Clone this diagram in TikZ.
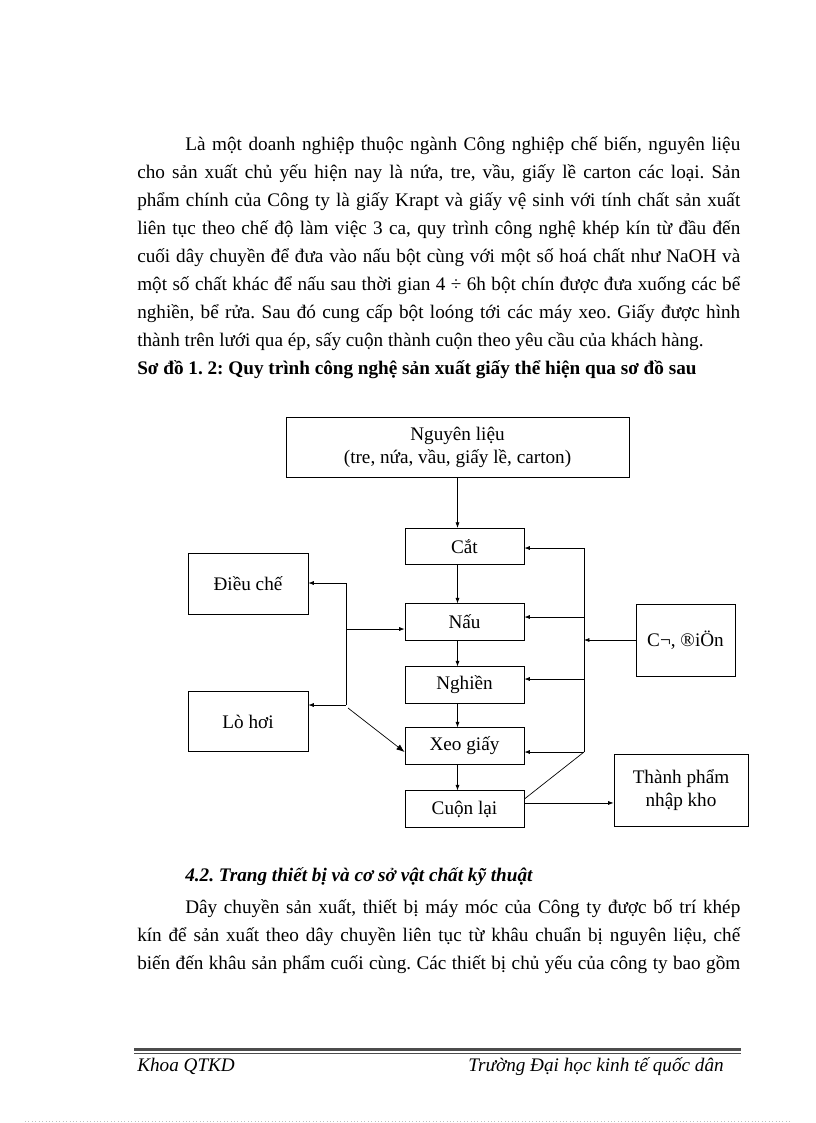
\documentclass[tikz,border=0pt]{standalone}
\usepackage{fontspec}
\setmainfont{Liberation Serif}
\usetikzlibrary{arrows.meta}
\frenchspacing

\tikzset{
    box/.style = {draw, line width = 0.6pt, inner sep = 1pt, align = center, font = \fontsize{14}{16.8}\selectfont},
    proc/.style = {box, minimum width = 86.8pt, minimum height = 26.6pt},
    side/.style = {box, minimum width = 87.5pt, minimum height = 44.1pt},
    arr/.style = {-{Latex[length = 4pt, width = 3pt]}, line width = 0.5pt},
    txt/.style = {anchor = base west, inner sep = 0pt, font = \fontsize{14}{17}\selectfont},
}

\begin{document}
\begin{tikzpicture}[x = 0.7295pt, y = -0.7295pt]
    \useasboundingbox (0, 0) rectangle (816, 1123);

    % body text above the chart
    \path
        (185, 150) node [txt] {\makebox[404.9pt][s]{Là một doanh nghiệp thuộc ngành Công nghiệp chế biến, nguyên liệu}}
        (137, 178.1) node [txt] {\makebox[439.9pt][s]{cho sản xuất chủ yếu hiện nay là nứa, tre, vầu, giấy lề carton các loại. Sản}}
        (137, 206.2) node [txt] {\makebox[439.9pt][s]{phẩm chính của Công ty là giấy Krapt và giấy vệ sinh với tính chất sản xuất}}
        (137, 234.3) node [txt] {\makebox[439.9pt][s]{liên tục theo chế độ làm việc 3 ca, quy trình công nghệ khép kín từ đầu đến}}
        (137, 262.4) node [txt] {\makebox[439.9pt][s]{cuối dây chuyền để đưa vào nấu bột cùng với một số hoá chất như NaOH và}}
        (137, 290.5) node [txt] {\makebox[439.9pt][s]{một số chất khác để nấu sau thời gian 4 ÷ 6h bột chín được đưa xuống các bể}}
        (137, 318.6) node [txt] {\makebox[439.9pt][s]{nghiền, bể rửa. Sau đó cung cấp bột loóng tới các máy xeo. Giấy được hình}}
        (137, 346.7) node [txt] {thành trên lưới qua ép, sấy cuộn thành cuộn theo yêu cầu của khách hàng.}
        (137, 374.8) node [txt, font = \fontsize{14}{17}\selectfont\bfseries] {Sơ đồ 1. 2: Quy trình công nghệ sản xuất giấy thể hiện qua sơ đồ sau}
    ;

    % chart
    \path
        (346, 583) coordinate (l1)
        (346, 629) coordinate (l2)
        (346, 705) coordinate (l3)
        (348, 708) coordinate (l4)
        (584, 548) coordinate (r1)
        (584, 617) coordinate (r2)
        (584, 679) coordinate (r4)
        (584, 752) coordinate (r5)
    ;

    \draw [line width = 0.5pt]
        (457.5, 447) node (raw) [box, minimum width = 250.2pt, minimum height = 43.8pt] {Nguyên liệu\\(tre, nứa, vầu, giấy lề, carton)}
        (464.5, 546.5) node (cat) [proc] {Cắt}
        (464.5, 622) node (nau) [proc] {Nấu}
        (464.5, 685) node (nghien) [proc] {Nghiền}
        (464.5, 746) node (xeo) [proc] {Xeo giấy}
        (464.5, 809) node (cuon) [proc] {Cuộn lại}
        (248, 584) node (dieuche) [side] {Điều chế}
        (248, 721.5) node (lohoi) [side] {Lò hơi}
        (685.5, 640) node (codien) [box, minimum width = 72.2pt, minimum height = 52.5pt] {C¬, ®iÖn}
        (681, 790) node (kho) [box, minimum width = 97.8pt, minimum height = 52.5pt] {Thành phẩm\\nhập kho}

        (raw.south) edge [arr] (raw.south |- cat.north)
        (cat.south -| raw.south) edge [arr] (nau.north -| raw.south)
        (nau.south -| raw.south) edge [arr] (nghien.north -| raw.south)
        (nghien.south -| raw.south) edge [arr] (xeo.north -| raw.south)
        (xeo.south -| raw.south) edge [arr] (cuon.north -| raw.south)

        (l1) edge (l3)
        (l1) edge [arr] (l1 -| dieuche.east)
        (l2) edge [arr] (l2 -| nau.west)
        (l3) edge [arr] (l3 -| lohoi.east)
        (l4) edge [-{Latex[length = 6pt, width = 4.5pt]}] ([yshift = -4.4pt] xeo.west)

        (r1) edge (r5)
        (r5) edge ([yshift = 7.3pt] cuon.east)
        (r1) edge [arr] (r1 -| cat.east)
        (r2) edge [arr] (r2 -| nau.east)
        (r4) edge [arr] (r4 -| nghien.east)
        (r5) edge [arr] (r5 -| xeo.east)
        (codien.west) edge [arr] (codien.west -| r1)

        ([yshift = 4.4pt] cuon.east) edge [arr] ([yshift = 4.4pt] cuon.east -| kho.west)
    ;

    % body text below the chart
    \path
        (185, 881) node [txt, font = \fontsize{14}{17}\selectfont\bfseries\itshape] {4.2. Trang thiết bị và cơ sở vật chất kỹ thuật}
        (185, 913) node [txt] {\makebox[404.9pt][s]{Dây chuyền sản xuất, thiết bị máy móc của Công ty được bố trí khép}}
        (137, 941.1) node [txt] {\makebox[439.9pt][s]{kín để sản xuất theo dây chuyền liên tục từ khâu chuẩn bị nguyên liệu, chế}}
        (137, 969.2) node [txt] {\makebox[439.9pt][s]{biến đến khâu sản phẩm cuối cùng. Các thiết bị chủ yếu của công ty bao gồm}}
    ;

    % footer
    \draw [line width = 1.5pt, black!70] (134, 1049.5) -- (741, 1049.5);
    \draw [line width = 0.5pt, black!70] (134, 1053) -- (741, 1053);
    \path
        (137, 1071) node [txt, font = \fontsize{14}{17}\selectfont\itshape] {Khoa QTKD}
        (724, 1071) node [txt, anchor = base east, font = \fontsize{14}{17}\selectfont\itshape] {Trường Đại học kinh tế quốc dân}
    ;
    \draw [dotted, black!25, line width = 0.5pt] (25, 1121) -- (790, 1121);
\end{tikzpicture}
\end{document}
